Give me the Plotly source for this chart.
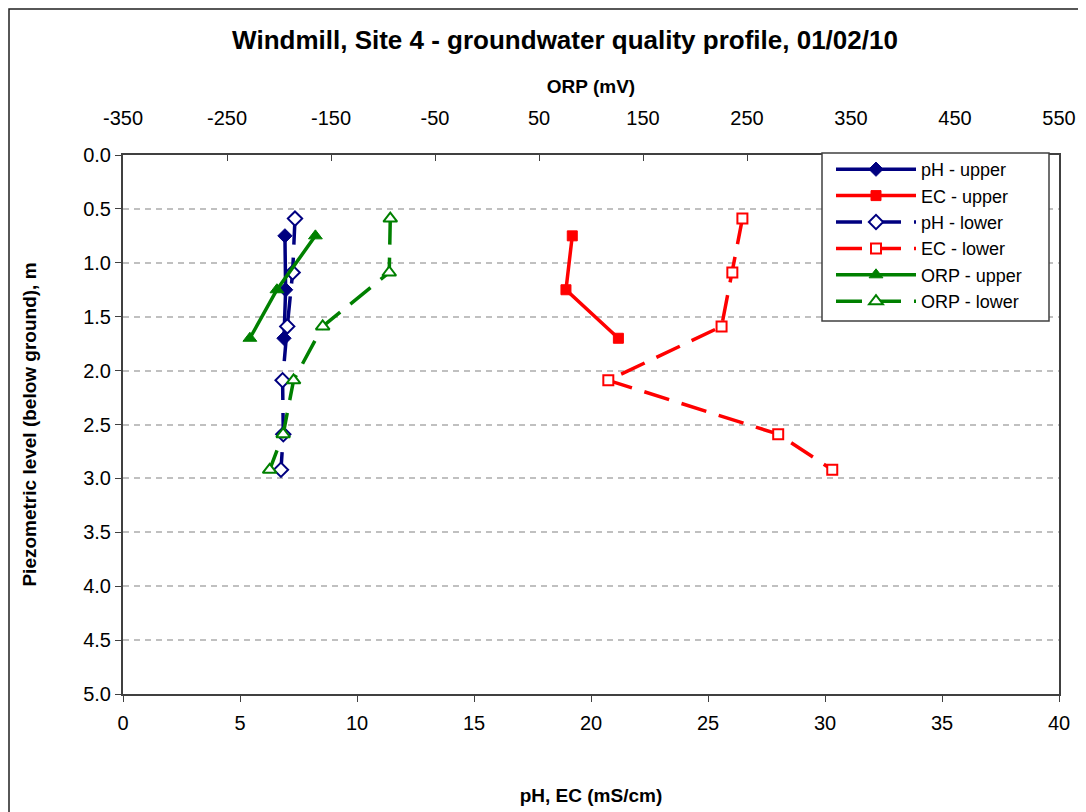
import plotly.graph_objects as go

# ---- data ----
depth_upper = [0.75, 1.25, 1.70]
depth_lower = [0.59, 1.09, 1.59, 2.09, 2.59, 2.92]

ph_upper = [6.92, 6.95, 6.88]
ec_upper = [19.2, 18.93, 21.17]
orp_upper = [-165, -202, -228]

ph_lower = [7.35, 7.25, 7.02, 6.82, 6.85, 6.75]
ec_lower = [26.47, 26.04, 25.58, 20.74, 28.0, 30.31]
orp_lower = [-93, -94, -158, -186, -196, -209]

x_ticks = [0, 5, 10, 15, 20, 25, 30, 35, 40]
orp_ticks = [-350, -250, -150, -50, 50, 150, 250, 350, 450, 550]
y_ticks = [0.0, 0.5, 1.0, 1.5, 2.0, 2.5, 3.0, 3.5, 4.0, 4.5, 5.0]

NAVY = "#000080"
RED = "#FF0000"
GREEN = "#008000"
DASH = "26px,13px"
FONT = "Liberation Sans, Arial, sans-serif"

fig = go.Figure()

def add(name, x, y, color, symbol, size, hollow, dash, axis):
    fig.add_trace(go.Scatter(
        x=x, y=y, name=name, mode="lines+markers",
        xaxis=axis, yaxis="y",
        line=dict(color=color, width=3.5, dash=dash),
        marker=dict(symbol=symbol, size=size,
                    color="white" if hollow else color,
                    line=dict(color=color, width=2 if hollow else 1)),
    ))

add("pH - upper", ph_upper, depth_upper, NAVY, "diamond", 11, False, "solid", "x")
add("EC - upper", ec_upper, depth_upper, RED, "square", 10, False, "solid", "x")
add("pH - lower", ph_lower, depth_lower, NAVY, "diamond", 11, True, DASH, "x")
add("EC - lower", ec_lower, depth_lower, RED, "square", 10, True, DASH, "x")
add("ORP - upper", orp_upper, depth_upper, GREEN, "triangle-up", 12, False, "solid", "x2")
add("ORP - lower", orp_lower, depth_lower, GREEN, "triangle-up", 12, True, DASH, "x2")

# page has an 8px body margin; work in figure coordinates
OFF = 8
W, H = 1086 - OFF, 812 - OFF
L, T = 123 - OFF, 155 - OFF
R = W - (1059 - OFF)
B = H - (694 - OFF)
pw = W - L - R
ph = H - T - B


def px_x(p):  # page x -> paper x
    return (p - 123) / pw


def px_y(p):  # page y -> paper y
    return (694 - p) / ph


fig.update_layout(
    width=W, height=H,
    margin=dict(l=L, r=R, t=T, b=B),
    paper_bgcolor="white", plot_bgcolor="white",
    font=dict(family=FONT, size=20, color="black"),
    title=dict(text="<b>Windmill, Site 4 - groundwater quality profile, 01/02/10</b>",
               x=(565 - OFF) / W, xref="container", xanchor="center",
               y=1 - (40 - OFF) / H, yref="container", yanchor="middle",
               font=dict(size=26, family=FONT, color="black")),
    showlegend=True,
    legend=dict(x=px_x(831), y=px_y(151), xanchor="left", yanchor="top",
                bgcolor="rgba(0,0,0,0)", borderwidth=0,
                font=dict(size=18, family=FONT), itemwidth=80,
                tracegroupgap=0),
    xaxis=dict(range=[0, 40], tickvals=x_ticks, ticktext=[str(v) for v in x_ticks],
               showgrid=False, zeroline=False,
               showline=True, linecolor="#404040", linewidth=2, mirror=True,
               ticks="outside", ticklen=6, tickcolor="#404040", tickwidth=1,
               ticklabelstandoff=4,
               title=dict(text="<b>pH, EC (mS/cm)</b>", standoff=56, font=dict(size=19)),
               automargin=False),
    xaxis2=dict(range=[-350, 550], tickvals=orp_ticks, ticktext=[str(v) for v in orp_ticks],
                overlaying="x", side="top", anchor="y",
                showgrid=False, zeroline=False,
                showline=True, linecolor="#404040", linewidth=2,
                ticks="inside", ticklen=6, tickcolor="#404040", tickwidth=1,
                ticklabelstandoff=20,
                title=dict(text="<b>ORP (mV)</b>", standoff=8, font=dict(size=19)),
                automargin=False),
    yaxis=dict(range=[5, 0], tickvals=y_ticks, ticktext=[f"{v:.1f}" for v in y_ticks],
               showgrid=True, gridcolor="#c0c0c0", gridwidth=1.5, griddash="6px,5px",
               zeroline=False,
               showline=True, linecolor="#404040", linewidth=2, mirror=True,
               ticks="outside", ticklen=6, tickcolor="#404040", tickwidth=1,
               title=dict(text="<b>Piezometric level (below ground), m</b>", standoff=42,
                          font=dict(size=19)),
               automargin=False),
)

# outer chart frame (left and top edges visible; right/bottom run off the page)
fig.add_shape(type="rect", xref="paper", yref="paper",
              x0=(1 - L) / pw, x1=(W + 10 - L) / pw,
              y0=(-(B + 10)) / ph, y1=(H - B - 1) / ph,
              line=dict(color="#202020", width=1.5), fillcolor="rgba(0,0,0,0)",
              layer="below")

# legend frame
fig.add_shape(type="rect", xref="paper", yref="paper",
              x0=px_x(822), x1=px_x(1049), y0=px_y(321), y1=px_y(153),
              line=dict(color="#404040", width=1.5), fillcolor="white",
              layer="above")

fig.write_html("out.html")
